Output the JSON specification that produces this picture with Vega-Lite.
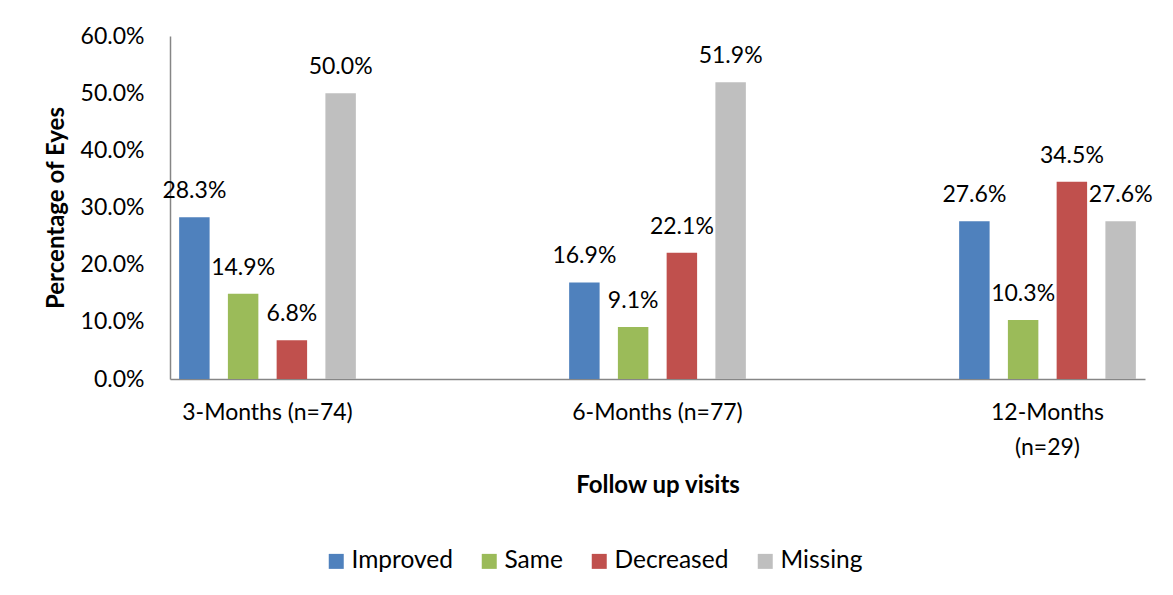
{
  "$schema": "https://vega.github.io/schema/vega-lite/v6.json",
  "autosize": {"type": "none"},
  "padding": {"left": 170, "top": 36, "right": 28, "bottom": 216},
  "width": 975,
  "height": 343,
  "background": "white",
  "config": {
    "font": "Lato",
    "view": {"stroke": null},
    "axis": {"labelFont": "Lato", "titleFont": "Lato", "labelColor": "#000000", "titleColor": "#000000"}
  },
  "data": {
    "values": [
      {"visit": "3-Months (n=74)", "outcome": "Improved", "pct": 0.283},
      {"visit": "3-Months (n=74)", "outcome": "Same", "pct": 0.149},
      {"visit": "3-Months (n=74)", "outcome": "Decreased", "pct": 0.068},
      {"visit": "3-Months (n=74)", "outcome": "Missing", "pct": 0.500},
      {"visit": "6-Months (n=77)", "outcome": "Improved", "pct": 0.169},
      {"visit": "6-Months (n=77)", "outcome": "Same", "pct": 0.091},
      {"visit": "6-Months (n=77)", "outcome": "Decreased", "pct": 0.221},
      {"visit": "6-Months (n=77)", "outcome": "Missing", "pct": 0.519},
      {"visit": "12-Months (n=29)", "outcome": "Improved", "pct": 0.276},
      {"visit": "12-Months (n=29)", "outcome": "Same", "pct": 0.103},
      {"visit": "12-Months (n=29)", "outcome": "Decreased", "pct": 0.345},
      {"visit": "12-Months (n=29)", "outcome": "Missing", "pct": 0.276}
    ]
  },
  "encoding": {
    "x": {
      "field": "visit",
      "type": "nominal",
      "sort": null,
      "scale": {"paddingInner": 0.5, "paddingOuter": 0},
      "axis": {
        "title": "Follow up visits",
        "titleFontSize": 24,
        "titleFontWeight": "bold",
        "titlePadding": 14,
        "labelAngle": 0,
        "labelFontSize": 23,
        "labelPadding": 22,
        "labelLineHeight": 35,
        "labelExpr": "length(datum.label) > 15 ? split(datum.label, ' ') : datum.label",
        "ticks": false,
        "domainColor": "#868686",
        "domainWidth": 1.5
      }
    },
    "xOffset": {
      "field": "outcome",
      "type": "nominal",
      "sort": ["Improved", "Same", "Decreased", "Missing"],
      "scale": {"paddingInner": 0.375, "paddingOuter": 0.1875}
    },
    "y": {
      "field": "pct",
      "type": "quantitative",
      "scale": {"domain": [0, 0.6], "nice": false},
      "axis": {
        "title": "Percentage of Eyes",
        "titleFontSize": 24,
        "titleFontWeight": "bold",
        "titlePadding": 12,
        "format": ".1%",
        "values": [0, 0.1, 0.2, 0.3, 0.4, 0.5, 0.6],
        "labelFontSize": 23,
        "labelPadding": 26,
        "ticks": false,
        "grid": false,
        "domainColor": "#868686",
        "domainWidth": 1.5
      }
    }
  },
  "layer": [
    {
      "mark": {"type": "bar"},
      "encoding": {
        "color": {
          "field": "outcome",
          "type": "nominal",
          "sort": ["Improved", "Same", "Decreased", "Missing"],
          "scale": {
            "domain": ["Improved", "Same", "Decreased", "Missing"],
            "range": ["#4F81BD", "#9BBB59", "#C0504D", "#BFBFBF"]
          },
          "legend": {
            "title": null,
            "orient": "none",
            "direction": "horizontal",
            "legendX": 154,
            "legendY": 513,
            "symbolType": "square",
            "symbolSize": 225,
            "symbolStrokeWidth": 0,
            "labelFontSize": 24.5,
            "labelFont": "Lato",
            "labelColor": "#000000",
            "labelOffset": 3,
            "columnPadding": 24
          }
        }
      }
    },
    {
      "mark": {"type": "text", "baseline": "alphabetic", "dy": -19, "fontSize": 23, "color": "#000000"},
      "encoding": {
        "text": {"field": "pct", "type": "quantitative", "format": ".1%"}
      }
    }
  ]
}
